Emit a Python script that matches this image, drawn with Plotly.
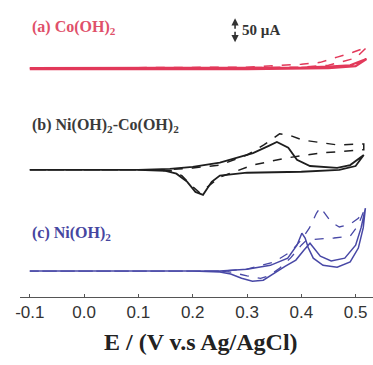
import plotly.graph_objects as go

# ---- data (E in V vs Ag/AgCl, current relative to each curve's baseline, in µA) ----
# (a) Co(OH)2
a_solid_E = [-0.1, 0.3, 0.4, 0.45, 0.49, 0.51, 0.52, 0.50, 0.45, 0.3, -0.1]
a_solid_I = [0, 0, 1, 3, 6, 15, 19, 4, 0, -2, -2]
a_dash_E = [-0.1, 0.3, 0.4, 0.435, 0.466, 0.495, 0.521, 0.50, 0.45, 0.4, 0.2, -0.1]
a_dash_I = [0, 2, 8, 12, 23, 33, 44, 21, 6, 2, 0, 0]

# (b) Ni(OH)2-Co(OH)2
b_solid_E = [-0.1, 0.1, 0.158, 0.2, 0.25, 0.311, 0.34, 0.355, 0.376, 0.392, 0.416, 0.466, 0.49, 0.515,
             0.50, 0.47, 0.40, 0.30, 0.25, 0.235, 0.219, 0.205, 0.19, 0.17, 0.15, 0.1, -0.1]
b_solid_I = [0, 0, 2, 6, 15, 35, 50, 58, 46, 21, 8, 4, 10, 31,
             8, 0, -4, -6, -12, -25, -52, -46, -25, -8, -2, 0, 0]
b_dash_E = [-0.1, 0.15, 0.2, 0.25, 0.3, 0.331, 0.36, 0.376, 0.403, 0.466, 0.515,
            0.515, 0.435, 0.374, 0.311, 0.25, 0.22, 0.213, 0.2, 0.18, 0.16, 0.1, -0.1]
b_dash_I = [0, 0, 4, 10, 31, 52, 75, 73, 62, 52, 54,
            42, 35, 25, 10, -15, -42, -48, -35, -12, -2, 0, 0]

# (c) Ni(OH)2
c_solid_E = [-0.1, 0.25, 0.3, 0.343, 0.375, 0.392, 0.401, 0.407, 0.413, 0.422, 0.44, 0.466, 0.49, 0.505, 0.514, 0.518,
             0.51, 0.50, 0.48, 0.455, 0.435, 0.416, 0.405, 0.39, 0.37, 0.35, 0.33, 0.31, 0.29, 0.27, 0.25, 0.2, -0.1]
c_solid_I = [0, 0, 4, 12, 27, 54, 79, 69, 48, 27, 12, 8, 19, 48, 90, 131,
             90, 54, 27, 21, 31, 58, 44, 23, 10, -4, -19, -21, -15, -6, -2, 0, 0]
c_dash_E = [-0.1, 0.25, 0.3, 0.35, 0.38, 0.40, 0.415, 0.428, 0.435, 0.442, 0.455, 0.47, 0.49, 0.505, 0.515,
            0.505, 0.49, 0.46, 0.43, 0.41, 0.40, 0.38, 0.36, 0.34, 0.325, 0.30, 0.27, 0.25, -0.1]
c_dash_I = [0, 0, 4, 19, 40, 65, 90, 121, 133, 123, 102, 92, 98, 110, 125,
            96, 73, 69, 67, 65, 54, 27, 6, -10, -15, -10, -2, 0, 0]

# vertical offsets of the stacked curves (µA)
offset_a = 477
offset_b = 265
offset_c = 54

labels = ["(a) Co(OH)<sub>2</sub>", "(b) Ni(OH)<sub>2</sub>-Co(OH)<sub>2</sub>", "(c) Ni(OH)<sub>2</sub>"]
tick_vals = [-0.1, 0.0, 0.1, 0.2, 0.3, 0.4, 0.5]
tick_text = ["-0.1", "0.0", "0.1", "0.2", "0.3", "0.4", "0.5"]
scale_bar_uA = 50

RED = "#e2395a"
BLACK = "#1e1e1e"
BLUE = "#4848a6"

fig = go.Figure()

def add(E, I, off, color, dash, width):
    fig.add_trace(go.Scatter(x=E, y=[v + off for v in I], mode="lines",
                             line=dict(color=color, width=width, dash=dash),
                             showlegend=False, hoverinfo="skip"))

add(a_solid_E, a_solid_I, offset_a, RED, "solid", 2.2)
add(a_dash_E, a_dash_I, offset_a, RED, "dash", 1.5)
add(b_solid_E, b_solid_I, offset_b, BLACK, "solid", 1.8)
add(b_dash_E, b_dash_I, offset_b, BLACK, "dash", 1.5)
add(c_solid_E, c_solid_I, offset_c, BLUE, "solid", 1.5)
add(c_dash_E, c_dash_I, offset_c, BLUE, "dash", 1.3)

lab_font = "Liberation Serif"
fig.add_annotation(text="<b>" + labels[0] + "</b>", xref="paper", yref="paper", x=0.028, y=0.906,
                   xanchor="left", yanchor="middle", showarrow=False,
                   font=dict(family=lab_font, size=16, color="#e0506a"))
fig.add_annotation(text="<b>" + labels[1] + "</b>", xref="paper", yref="paper", x=0.028, y=0.576,
                   xanchor="left", yanchor="middle", showarrow=False,
                   font=dict(family=lab_font, size=16, color="#3a3a3a"))
fig.add_annotation(text="<b>" + labels[2] + "</b>", xref="paper", yref="paper", x=0.028, y=0.215,
                   xanchor="left", yanchor="middle", showarrow=False,
                   font=dict(family=lab_font, size=16, color="#4646a0"))

# scale bar
bar_E = 0.278
bar_c = 556
for sgn in (1, -1):
    fig.add_annotation(x=bar_E, y=bar_c + sgn * scale_bar_uA / 2, xref="x", yref="y",
                       ax=bar_E, ay=bar_c, axref="x", ayref="y", text="", showarrow=True,
                       arrowhead=2, arrowsize=0.9, arrowwidth=1.6, arrowcolor="#333")
fig.add_annotation(text="<b>50 µA</b>", xref="paper", yref="paper", x=0.623, y=0.899,
                   xanchor="left", yanchor="middle", showarrow=False,
                   font=dict(family=lab_font, size=15, color="#333"))

fig.add_annotation(text="<b>E / (V v.s Ag/AgCl)</b>", xref="paper", yref="paper", x=0.513, y=-0.152,
                   xanchor="center", yanchor="middle", showarrow=False,
                   font=dict(family=lab_font, size=24, color="#222"))

fig.update_xaxes(range=[-0.118, 0.532], tickvals=tick_vals, ticktext=tick_text,
                 showline=True, linecolor="#555", linewidth=1, ticks="inside", ticklen=3,
                 tickcolor="#555", showgrid=False, zeroline=False, automargin=False,
                 tickfont=dict(family="Liberation Sans", size=17, color="#333"))
fig.update_yaxes(range=[0, 619], visible=False, showgrid=False, zeroline=False)

fig.update_layout(width=373, height=365, margin=dict(l=20, r=0, t=0, b=68, autoexpand=False),
                  plot_bgcolor="white", paper_bgcolor="white")

fig.write_html("out.html", config={"displayModeBar": False},
               post_script="document.body.style.margin='0px';document.body.style.padding='0px';")
